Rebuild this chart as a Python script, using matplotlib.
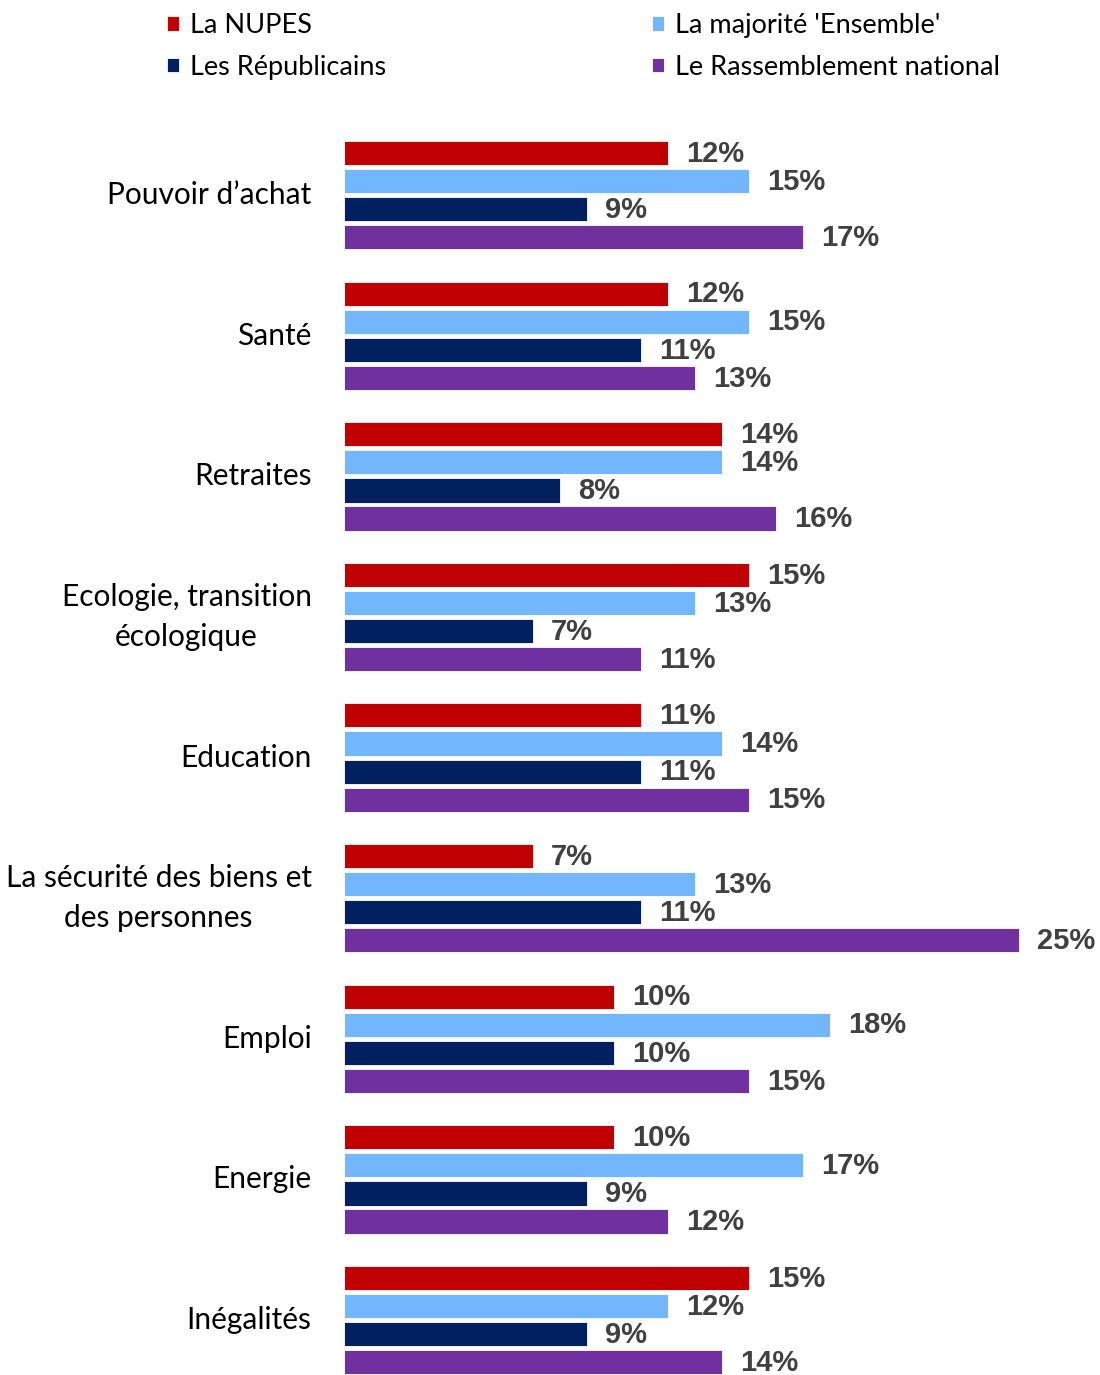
import matplotlib.pyplot as plt
import numpy as np

categories = [
    "Pouvoir d\u2019achat",
    "Santé",
    "Retraites",
    "Ecologie, transition\nécologique",
    "Education",
    "La sécurité des biens et\ndes personnes",
    "Emploi",
    "Energie",
    "Inégalités",
]
series = ["La NUPES", "La majorité 'Ensemble'", "Les Républicains", "Le Rassemblement national"]
nupes = [12, 12, 14, 15, 11, 7, 10, 10, 15]
ensemble = [15, 15, 14, 13, 14, 13, 18, 17, 12]
republicains = [9, 11, 8, 7, 11, 11, 10, 9, 9]
rn = [17, 13, 16, 11, 15, 25, 15, 12, 14]
colors = ["#C00000", "#72B6FD", "#002060", "#7030A0"]

values = [nupes, ensemble, republicains, rn]

fig = plt.figure(figsize=(11, 13.75), dpi=100)
ax = fig.add_axes([344 / 1100, 0, 1 - 344 / 1100, 1 - 120 / 1375])

y = np.arange(len(categories))
pitch = 0.2
handles = []
for j, (vals, col, name) in enumerate(zip(values, colors, series)):
    yy = y + pitch * j
    b = ax.barh(yy, vals, height=0.172, color=col, edgecolor="white", linewidth=0.6, label=name)
    handles.append(b)
    for yv, v in zip(yy, vals):
        ax.text(v + 0.66, yv + 0.005, f"{v}%", va="center", ha="left",
                fontsize=21, fontweight="bold", color="#404040",
                family="Liberation Sans", clip_on=False)

for i, cat in enumerate(categories):
    ax.text(-1.2, y[i] + 1.5 * pitch, cat, ha="right", va="center", fontsize=21.5,
            family="Lato", color="black", linespacing=1.5, multialignment="center")

ax.set_xlim(0, 28)
ax.set_ylim((1375 - 153) / 140.6, (120 - 153) / 140.6)
ax.axis("off")

order = [0, 2, 1, 3]
fig.legend([handles[k] for k in order], [series[k] for k in order], ncol=2,
           loc="upper left", bbox_to_anchor=(148 / 1100, 1.0 + 6 / 1375), frameon=False,
           prop={"family": "Lato", "size": 19.5}, handlelength=0.45, handleheight=0.45,
           handletextpad=0.4, columnspacing=9.8, labelspacing=0.62, borderpad=0.2)

fig.savefig("out.png", dpi=100)
